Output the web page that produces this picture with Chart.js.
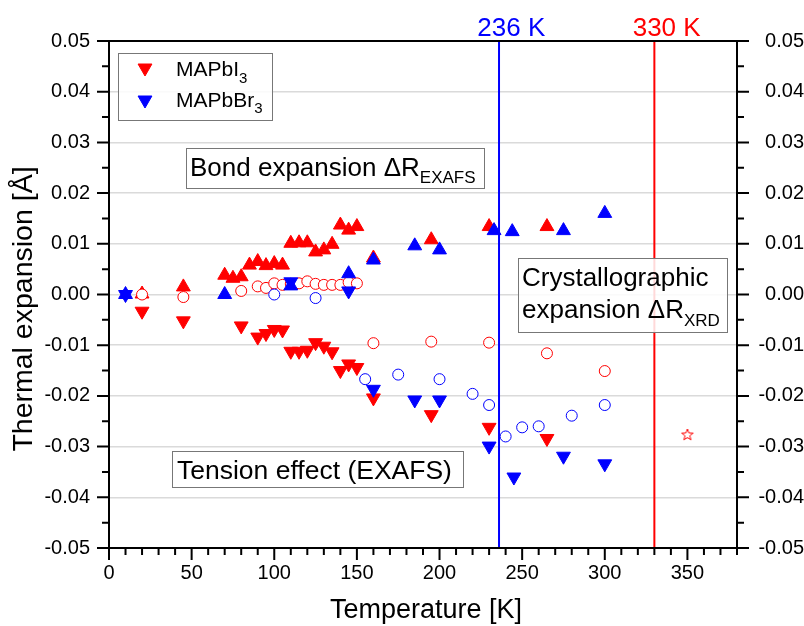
<!DOCTYPE html>
<html lang="en">
<head>
<meta charset="UTF-8" />
<title>Thermal expansion</title>
<script src="https://cdn.jsdelivr.net/npm/chart.js"></script>
<style>
  html, body { margin: 0; padding: 0; background: #fff; }
  #wrap { width: 804px; height: 626px; }
</style>
</head>
<body>
<div id="wrap"><canvas id="chart"></canvas></div>
<script>
// axis ticks
const xTicks = [0, 50, 100, 150, 200, 250, 300, 350];
const yTicks = [-0.05, -0.04, -0.03, -0.02, -0.01, 0, 0.01, 0.02, 0.03, 0.04, 0.05];

// MAPbI3 (red)
const iDownT = [20, 45, 80, 90, 95, 100, 105, 110, 115, 120, 125, 130, 135, 140, 145, 150, 160, 195, 230, 265];
const iDownV = [-0.0033, -0.0052, -0.0062, -0.0084, -0.0077, -0.0069, -0.0070, -0.0112, -0.0112, -0.0110,
                -0.0095, -0.0102, -0.0113, -0.0150, -0.0137, -0.0144, -0.0204, -0.0237, -0.0262, -0.0284];
const iUpT = [20, 45, 70, 75, 80, 85, 90, 95, 100, 105, 110, 115, 120, 125, 130, 135, 140, 145, 150, 160, 195, 230, 265];
const iUpV = [0.0001, 0.0015, 0.0038, 0.0032, 0.0035, 0.0058, 0.0065, 0.0057, 0.0061, 0.0058, 0.0101, 0.0102,
              0.0102, 0.0084, 0.0088, 0.0099, 0.0137, 0.0127, 0.0134, 0.0072, 0.0108, 0.0134, 0.0134];
const iXrdT = [20, 45, 80, 90, 95, 100, 105, 110, 115, 120, 125, 130, 135, 140, 145, 150, 160, 195, 230, 265, 300];
const iXrdV = [0, -0.0005, 0.0007, 0.0016, 0.0013, 0.0022, 0.0019, 0.0021, 0.0022, 0.0026, 0.0021, 0.0019,
               0.0019, 0.0019, 0.0024, 0.0022, -0.0096, -0.0093, -0.0095, -0.0116, -0.0151];
const iStarT = [350];
const iStarV = [-0.0277];

// MAPbBr3 (blue)
const bDownT = [10, 110, 145, 160, 185, 200, 230, 245, 275, 300];
const bDownV = [0, 0.0025, 0.0007, -0.0187, -0.0208, -0.0208, -0.0299, -0.0360, -0.0319, -0.0334];
const bUpT = [10, 70, 110, 145, 160, 185, 200, 233, 244, 275, 300];
const bUpV = [0, 0.0000, 0.0017, 0.0041, 0.0068, 0.0096, 0.0088, 0.0126, 0.0124, 0.0126, 0.0160];
const bXrdT = [100, 125, 155, 175, 200, 220, 230, 240, 250, 260, 280, 300];
const bXrdV = [0, -0.0007, -0.0167, -0.0158, -0.0167, -0.0196, -0.0218, -0.0280, -0.0262, -0.0260, -0.0239, -0.0218];

// transition temperatures
const transT = [236, 330];
const transLabels = ['236 K', '330 K'];

const RED = '#ff0000', BLUE = '#0000ff';
const FONT = 'Arial, "Liberation Sans", sans-serif';

const pts = (xs, ys) => xs.map((x, i) => ({ x: x, y: ys[i] }));

function starCanvas(r, color) {
  const c = document.createElement('canvas');
  const s = Math.ceil(2 * r + 4);
  c.width = c.height = s;
  const g = c.getContext('2d');
  g.strokeStyle = color;
  g.lineWidth = 1;
  g.beginPath();
  for (let i = 0; i < 10; i++) {
    const a = -Math.PI / 2 + i * Math.PI / 5;
    const rr = i % 2 ? r * 0.42 : r;
    g.lineTo(s / 2 + rr * Math.cos(a), s / 2 + rr * Math.sin(a));
  }
  g.closePath();
  g.stroke();
  return c;
}

function tri(color, down, order) {
  return {
    pointStyle: 'triangle', pointRotation: down ? 180 : 0, pointRadius: 8,
    backgroundColor: color, borderColor: color, borderWidth: 1, order: order
  };
}
function circ(color, order) {
  return {
    pointStyle: 'circle', pointRadius: 5.5, backgroundColor: '#fff',
    borderColor: color, borderWidth: 1, order: order
  };
}

// text with optional subscript: parts = [[text, size, dy]]
function drawParts(ctx, parts, x, y) {
  for (const p of parts) {
    ctx.font = p[1] + 'px ' + FONT;
    ctx.fillText(p[0], x, y + (p[2] || 0));
    x += ctx.measureText(p[0]).width;
  }
}
function box(ctx, x, y, w, h) {
  ctx.fillStyle = 'rgba(255,255,255,0.85)';
  ctx.fillRect(x, y, w, h);
  ctx.strokeStyle = '#777';
  ctx.lineWidth = 1;
  ctx.strokeRect(x + 0.5, y + 0.5, w, h);
}
function legendTri(ctx, color, x, y) {
  ctx.fillStyle = color;
  ctx.strokeStyle = color;
  Chart.helpers.drawPoint(ctx, { pointStyle: 'triangle', rotation: 180, radius: 8, borderWidth: 1 }, x, y);
}

const decor = {
  id: 'decor',
  afterDatasetsDraw(chart) {
    const ctx = chart.ctx;
    ctx.save();
    ctx.textBaseline = 'alphabetic';
    ctx.textAlign = 'left';
    // legend
    box(ctx, 118, 53, 154, 67);
    legendTri(ctx, RED, 145, 68);
    legendTri(ctx, BLUE, 145, 100);
    ctx.fillStyle = '#000';
    drawParts(ctx, [['MAPbI', 21], ['3', 15, 7]], 176, 76);
    drawParts(ctx, [['MAPbBr', 21], ['3', 15, 6]], 176, 107);
    // annotations
    box(ctx, 186, 148, 298, 40);
    ctx.fillStyle = '#000';
    drawParts(ctx, [['Bond expansion \u0394R', 26], ['EXAFS', 17, 7]], 190, 176);
    box(ctx, 172, 451, 291, 36);
    ctx.fillStyle = '#000';
    drawParts(ctx, [['Tension effect (EXAFS)', 26.5]], 177, 479);
    box(ctx, 518, 258, 209, 74);
    ctx.fillStyle = '#000';
    drawParts(ctx, [['Crystallographic', 26]], 522, 286);
    drawParts(ctx, [['expansion \u0394R', 26], ['XRD', 17, 8]], 522, 318);
    ctx.restore();
  },
  afterDraw(chart) {
    const ctx = chart.ctx, a = chart.chartArea;
    const xs = chart.scales.x, ys = chart.scales.y;
    ctx.save();
    ctx.strokeStyle = '#000';
    ctx.lineWidth = 2;
    ctx.strokeRect(a.left, a.top, a.right - a.left, a.bottom - a.top);
    ctx.beginPath();
    // x ticks (major 50, minor 10)
    for (let v = xs.min; v <= xs.max + 1e-9; v += 10) {
      const p = xs.getPixelForValue(v);
      const len = v % 50 === 0 ? 12 : 7;
      ctx.moveTo(p, a.bottom); ctx.lineTo(p, a.bottom + len);
    }
    // y ticks on both sides (major 0.01, minor 0.005)
    for (let k = -10; k <= 10; k++) {
      const p = ys.getPixelForValue(k * 0.005);
      const len = k % 2 === 0 ? 12 : 7;
      ctx.moveTo(a.left, p); ctx.lineTo(a.left - len, p);
      ctx.moveTo(a.right, p); ctx.lineTo(a.right + len, p);
    }
    ctx.stroke();
    // transition labels
    ctx.font = '26px ' + FONT;
    ctx.textAlign = 'left';
    ctx.textBaseline = 'alphabetic';
    transT.forEach((t, i) => {
      const p = xs.getPixelForValue(t);
      ctx.fillStyle = i === 0 ? BLUE : RED;
      const w = ctx.measureText(transLabels[i].split(' ')[0]).width;
      ctx.fillText(transLabels[i], p - w / 2, 36);
    });
    // axis titles
    ctx.fillStyle = '#000';
    ctx.font = '27px ' + FONT;
    ctx.textAlign = 'center';
    ctx.fillText('Temperature [K]', 426, 618);
    ctx.translate(32, 309);
    ctx.rotate(-Math.PI / 2);
    ctx.font = '28.5px ' + FONT;
    ctx.fillText('Thermal expansion [\u00c5]', 0, 0);
    ctx.restore();
  }
};

const yLabel = v => Number(v).toFixed(2);

new Chart(document.getElementById('chart'), {
  type: 'scatter',
  data: {
    datasets: [
      Object.assign({ label: 'MAPbBr3 down', data: pts(bDownT, bDownV) }, tri(BLUE, true, 1)),
      Object.assign({ label: 'MAPbBr3 up', data: pts(bUpT, bUpV) }, tri(BLUE, false, 2)),
      Object.assign({ label: 'MAPbBr3 XRD', data: pts(bXrdT, bXrdV) }, circ(BLUE, 3)),
      Object.assign({ label: 'MAPbI3 XRD', data: pts(iXrdT, iXrdV) }, circ(RED, 4)),
      { label: 'MAPbI3 XRD 350', data: pts(iStarT, iStarV), pointStyle: starCanvas(6, RED), order: 4 },
      Object.assign({ label: 'MAPbI3 up', data: pts(iUpT, iUpV) }, tri(RED, false, 5)),
      Object.assign({ label: 'MAPbI3 down', data: pts(iDownT, iDownV) }, tri(RED, true, 6)),
      { type: 'line', label: transLabels[0], data: [{ x: transT[0], y: yTicks[0] }, { x: transT[0], y: yTicks[yTicks.length - 1] }],
        borderColor: BLUE, borderWidth: 2, pointRadius: 0, order: 7 },
      { type: 'line', label: transLabels[1], data: [{ x: transT[1], y: yTicks[0] }, { x: transT[1], y: yTicks[yTicks.length - 1] }],
        borderColor: RED, borderWidth: 2, pointRadius: 0, order: 7 }
    ]
  },
  options: {
    responsive: true,
    maintainAspectRatio: false,
    animation: false,
    events: [],
    layout: { padding: { top: 41, left: 0, right: 0, bottom: 0 } },
    plugins: { legend: { display: false }, tooltip: { enabled: false } },
    scales: {
      x: {
        type: 'linear', min: 0, max: 380,
        afterBuildTicks: s => { s.ticks = xTicks.map(v => ({ value: v })); },
        afterFit: s => { s.height = 78; },
        grid: { display: false, drawTicks: false },
        border: { display: false },
        ticks: { color: '#000', font: { family: FONT, size: 20 }, padding: 13, maxRotation: 0, autoSkip: false }
      },
      y: {
        type: 'linear', position: 'left', min: -0.05, max: 0.05,
        afterBuildTicks: s => { s.ticks = yTicks.map(v => ({ value: v })); },
        afterFit: s => { s.width = 109; },
        grid: {
          drawTicks: false, lineWidth: 1.5,
          color: c => (c.tick && Math.abs(c.tick.value) < 0.045) ? '#dadada' : 'rgba(0,0,0,0)'
        },
        border: { display: false },
        ticks: { color: '#000', font: { family: FONT, size: 20 }, padding: 19, callback: yLabel, autoSkip: false }
      },
      y2: {
        type: 'linear', position: 'right', min: -0.05, max: 0.05,
        afterBuildTicks: s => { s.ticks = yTicks.map(v => ({ value: v })); },
        afterFit: s => { s.width = 67; },
        grid: { drawOnChartArea: false, drawTicks: false },
        border: { display: false },
        ticks: { color: '#000', font: { family: FONT, size: 20 }, padding: 18, crossAlign: 'far', callback: yLabel, autoSkip: false }
      }
    }
  },
  plugins: [decor]
});
</script>
</body>
</html>
